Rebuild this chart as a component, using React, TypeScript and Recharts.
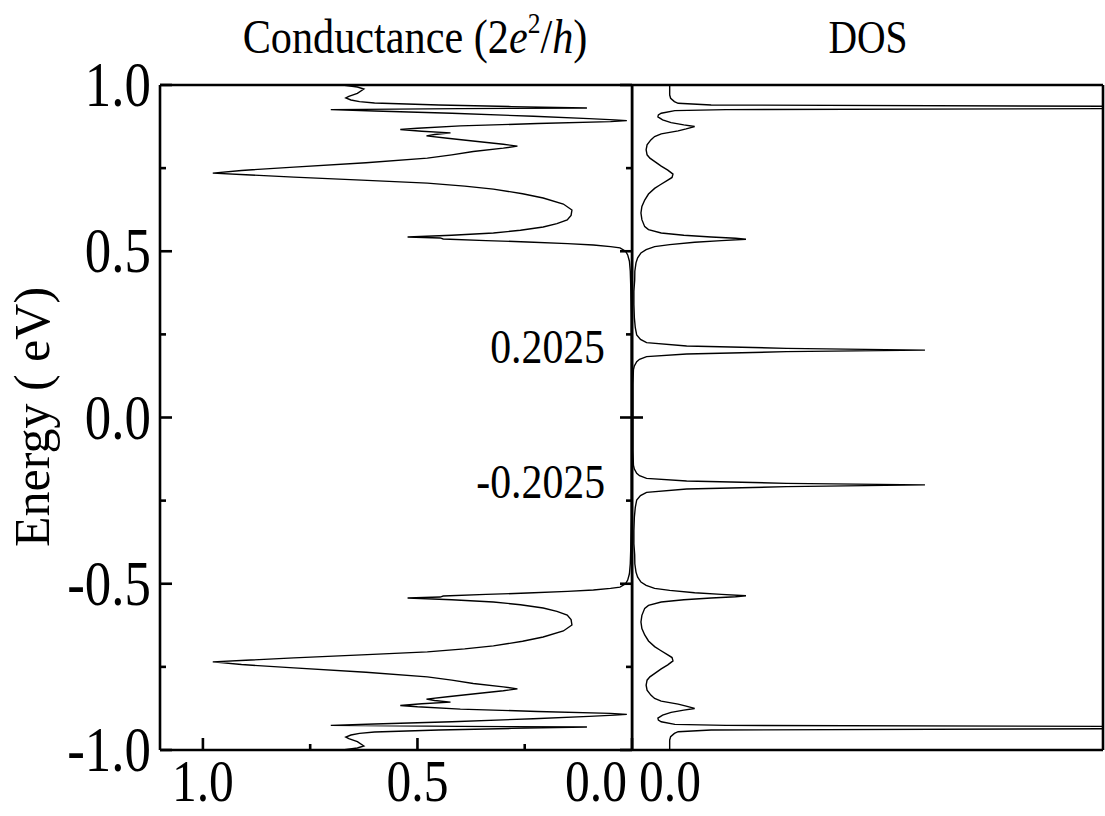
import React from 'react';
import { ScatterChart, Scatter, XAxis, YAxis, ReferenceLine, Label } from 'recharts';

const FONT = '"Liberation Serif", "Times New Roman", Times, serif';
const FRAME = 2.6;
const CURVE = 1.4;

// ---------- Conductance (2e^2/h) vs Energy (eV) ----------
const condEnergyUpper = [1.0, 0.994, 0.988, 0.975, 0.966, 0.961, 0.955, 0.95, 0.946, 0.94, 0.935, 0.931, 0.929, 0.926, 0.922, 0.915, 0.906, 0.899, 0.895, 0.893, 0.89, 0.884, 0.877, 0.87, 0.866, 0.861, 0.856, 0.851, 0.847, 0.84, 0.83, 0.822, 0.816, 0.81, 0.8, 0.79, 0.78, 0.766, 0.753, 0.743, 0.735, 0.73, 0.723, 0.714, 0.705, 0.696, 0.687, 0.673, 0.66, 0.642, 0.624, 0.608, 0.594, 0.583, 0.573, 0.563, 0.555, 0.548, 0.543, 0.54, 0.537, 0.532, 0.528, 0.523, 0.519, 0.514, 0.51, 0.5, 0.489, 0.47, 0.44, 0.4, 0.3, 0.2, 0.1, 0.0];
const condUpper = [0.674, 0.64, 0.625, 0.64, 0.66, 0.667, 0.655, 0.635, 0.6, 0.45, 0.28, 0.105, 0.4, 0.702, 0.6, 0.42, 0.23, 0.1, 0.04, 0.012, 0.05, 0.22, 0.4, 0.5, 0.54, 0.49, 0.423, 0.46, 0.479, 0.43, 0.36, 0.3, 0.267, 0.3, 0.37, 0.42, 0.477, 0.62, 0.788, 0.91, 0.977, 0.9, 0.788, 0.63, 0.477, 0.39, 0.323, 0.255, 0.207, 0.16, 0.14, 0.142, 0.151, 0.175, 0.207, 0.26, 0.323, 0.42, 0.523, 0.447, 0.44, 0.34, 0.244, 0.15, 0.09, 0.05, 0.028, 0.015, 0.01, 0.006, 0.004, 0.003, 0.002, 0.002, 0.002, 0.002];
const condEnergyLower = [-0.1, -0.2, -0.3, -0.4, -0.44, -0.47, -0.489, -0.5, -0.51, -0.514, -0.519, -0.523, -0.528, -0.532, -0.537, -0.54, -0.543, -0.548, -0.555, -0.563, -0.573, -0.583, -0.594, -0.608, -0.624, -0.642, -0.66, -0.673, -0.687, -0.696, -0.705, -0.714, -0.723, -0.73, -0.735, -0.743, -0.753, -0.766, -0.78, -0.79, -0.8, -0.81, -0.816, -0.822, -0.83, -0.84, -0.847, -0.851, -0.856, -0.861, -0.866, -0.87, -0.877, -0.884, -0.89, -0.893, -0.895, -0.899, -0.906, -0.915, -0.922, -0.926, -0.929, -0.931, -0.935, -0.94, -0.946, -0.95, -0.955, -0.961, -0.966, -0.975, -0.988, -0.994, -1.0];
const condLower = [0.002, 0.002, 0.002, 0.003, 0.004, 0.006, 0.01, 0.015, 0.028, 0.05, 0.09, 0.15, 0.244, 0.34, 0.44, 0.447, 0.523, 0.42, 0.323, 0.26, 0.207, 0.175, 0.151, 0.142, 0.14, 0.16, 0.207, 0.255, 0.323, 0.39, 0.477, 0.63, 0.788, 0.9, 0.977, 0.91, 0.788, 0.62, 0.477, 0.42, 0.37, 0.3, 0.267, 0.3, 0.36, 0.43, 0.479, 0.46, 0.423, 0.49, 0.54, 0.5, 0.4, 0.22, 0.05, 0.012, 0.04, 0.1, 0.23, 0.42, 0.6, 0.702, 0.4, 0.105, 0.28, 0.45, 0.6, 0.635, 0.655, 0.667, 0.66, 0.64, 0.625, 0.64, 0.674];

// ---------- DOS vs Energy (eV) ----------
const dosEnergyUpper = [1.0, 0.97, 0.96, 0.95, 0.945, 0.94, 0.936, 0.9325, 0.929, 0.926, 0.923, 0.915, 0.91, 0.904, 0.895, 0.887, 0.88, 0.875, 0.868, 0.862, 0.853, 0.845, 0.835, 0.82, 0.805, 0.79, 0.78, 0.768, 0.756, 0.744, 0.732, 0.722, 0.714, 0.7, 0.689, 0.672, 0.654, 0.635, 0.615, 0.595, 0.574, 0.565, 0.555, 0.548, 0.543, 0.539, 0.536, 0.532, 0.527, 0.52, 0.514, 0.505, 0.495, 0.48, 0.465, 0.44, 0.413, 0.38, 0.34, 0.3, 0.27, 0.248, 0.235, 0.225, 0.215, 0.208, 0.2025, 0.198, 0.191, 0.183, 0.175, 0.168, 0.155, 0.143, 0.1, 0.05, 0.0];
const dosUpper = [0.08, 0.08, 0.082, 0.09, 0.098, 0.168, 1.0, 1.6, 1.0, 0.2, 0.091, 0.062, 0.056, 0.055, 0.065, 0.083, 0.11, 0.133, 0.115, 0.098, 0.062, 0.048, 0.04, 0.032, 0.03, 0.032, 0.038, 0.05, 0.062, 0.076, 0.087, 0.085, 0.076, 0.06, 0.048, 0.035, 0.027, 0.021, 0.019, 0.021, 0.027, 0.035, 0.062, 0.11, 0.168, 0.22, 0.242, 0.19, 0.133, 0.08, 0.048, 0.03, 0.019, 0.012, 0.0085, 0.006, 0.0057, 0.004, 0.004, 0.005, 0.007, 0.01, 0.018, 0.031, 0.116, 0.328, 0.622, 0.328, 0.116, 0.031, 0.016, 0.01, 0.005, 0.003, 0.002, 0.002, 0.002];
const dosEnergyLower = [-0.05, -0.1, -0.143, -0.155, -0.168, -0.175, -0.183, -0.191, -0.198, -0.2025, -0.208, -0.215, -0.225, -0.235, -0.248, -0.27, -0.3, -0.34, -0.38, -0.413, -0.44, -0.465, -0.48, -0.495, -0.505, -0.514, -0.52, -0.527, -0.532, -0.536, -0.539, -0.543, -0.548, -0.555, -0.565, -0.574, -0.595, -0.615, -0.635, -0.654, -0.672, -0.689, -0.7, -0.714, -0.722, -0.732, -0.744, -0.756, -0.768, -0.78, -0.79, -0.805, -0.82, -0.835, -0.845, -0.853, -0.862, -0.868, -0.875, -0.88, -0.887, -0.895, -0.904, -0.91, -0.915, -0.923, -0.926, -0.929, -0.9325, -0.936, -0.94, -0.945, -0.95, -0.96, -0.97, -1.0];
const dosLower = [0.002, 0.002, 0.003, 0.005, 0.01, 0.016, 0.031, 0.116, 0.328, 0.622, 0.328, 0.116, 0.031, 0.018, 0.01, 0.007, 0.005, 0.004, 0.004, 0.0057, 0.006, 0.0085, 0.012, 0.019, 0.03, 0.048, 0.08, 0.133, 0.19, 0.242, 0.22, 0.168, 0.11, 0.062, 0.035, 0.027, 0.021, 0.019, 0.021, 0.027, 0.035, 0.048, 0.06, 0.076, 0.085, 0.087, 0.076, 0.062, 0.05, 0.038, 0.032, 0.03, 0.032, 0.04, 0.048, 0.062, 0.098, 0.115, 0.133, 0.11, 0.083, 0.065, 0.055, 0.056, 0.062, 0.091, 0.2, 1.0, 1.6, 1.0, 0.168, 0.098, 0.09, 0.082, 0.08, 0.08];

// ---------- ticks & labels ----------
const energyTicks = [-1, -0.75, -0.5, -0.25, 0, 0.25, 0.5, 0.75, 1];
const condTicks = [0, 0.25, 0.5, 0.75, 1];
const dosTicks = [0];
const markedLevels = [0.2025, -0.2025];
const markedLabels = ['0.2025', '-0.2025'];

const zip = (es: number[], vs: number[]) => es.map((e, i) => ({ e, v: vs[i] }));
const condData = [...zip(condEnergyUpper, condUpper), ...zip(condEnergyLower, condLower)];
const dosData = [...zip(dosEnergyUpper, dosUpper), ...zip(dosEnergyLower, dosLower)];

const isMajor = (v: number) => Math.abs(v * 2 - Math.round(v * 2)) < 1e-9;
const fmt = (v: number) => v.toFixed(1);

const LEFT_FS = 63;
const BOTTOM_FS = 59;
const SX = 0.84;

const SText = ({ x, y, fs, anchor, sx = SX, children }: any) => (
  <text
    transform={`translate(${x},${y}) scale(${sx},1)`}
    x={0}
    y={0}
    textAnchor={anchor}
    fontSize={fs}
    fontFamily={FONT}
    fill="#000"
  >
    {children}
  </text>
);

const LeftEnergyTick = (props: any) => {
  const { x, y, payload } = props;
  const v = payload.value;
  const major = isMajor(v);
  return (
    <g>
      <line x1={x} x2={x + (major ? 12 : 6)} y1={y} y2={y} stroke="#000" strokeWidth={FRAME} />
      {major && (
        <SText x={x - 9} y={y + 21} fs={LEFT_FS} anchor="end">
          {fmt(v)}
        </SText>
      )}
    </g>
  );
};

const DividerTick = (props: any) => {
  const { x, y, payload } = props;
  const major = isMajor(payload.value);
  return <line x1={x} x2={x - (major ? 12 : 6)} y1={y} y2={y} stroke="#000" strokeWidth={FRAME} />;
};

const CondBottomTick = (props: any) => {
  const { x, y, payload } = props;
  const v = payload.value;
  const major = isMajor(v);
  const shift = v === 0 ? -36 : 0;
  return (
    <g>
      <line x1={x} x2={x} y1={y} y2={y - (major ? 12 : 6)} stroke="#000" strokeWidth={FRAME} />
      {major && (
        <SText x={x + shift} y={y + 51} fs={BOTTOM_FS} anchor="middle">
          {fmt(v)}
        </SText>
      )}
    </g>
  );
};

const CondTopTick = (props: any) => {
  const { x, y, payload } = props;
  const major = isMajor(payload.value);
  return <line x1={x} x2={x} y1={y} y2={y + (major ? 12 : 6)} stroke="#000" strokeWidth={FRAME} />;
};

const DosBottomTick = (props: any) => {
  const { x, y, payload } = props;
  return (
    <SText x={x + 38} y={y + 51} fs={BOTTOM_FS} anchor="middle">
      {fmt(payload.value)}
    </SText>
  );
};

const DosLeftTick = (props: any) => {
  const { x, y } = props;
  return <line x1={x} x2={x + 11} y1={y} y2={y} stroke="#000" strokeWidth={FRAME} />;
};

// Texts of the left chart (title + axis title); chart coordinates = page coordinates
const LeftTexts = () => (
  <g>
    <text
      transform={`translate(415,53) scale(0.88,1)`}
      textAnchor="middle"
      fontSize={48}
      fontFamily={FONT}
      fill="#000"
    >
      Conductance (2<tspan fontStyle="italic">e</tspan>
      <tspan fontSize={29} dy={-20}>2</tspan>
      <tspan dy={20}>/</tspan>
      <tspan fontStyle="italic">h</tspan>)
    </text>
    <text
      transform="translate(49,417) rotate(-90)"
      textAnchor="middle"
      fontSize={50}
      fontFamily={FONT}
      fill="#000"
    >
      Energy ( eV)
    </text>
  </g>
);

// Right chart is offset by 631 px
const RightTexts = () => (
  <text
    transform={`translate(${868 - 631},53) scale(0.86,1)`}
    textAnchor="middle"
    fontSize={46}
    fontFamily={FONT}
    fill="#000"
  >
    DOS
  </text>
);

const levelLabel = (text: string) => (props: any) => {
  const vb = props.viewBox || {};
  const x = (vb.x ?? 160) + (vb.width ?? 472) - 27;
  const y = (vb.y ?? 0) + 13;
  return (
    <SText x={x} y={y} fs={48} anchor="end" sx={0.87}>
      {text}
    </SText>
  );
};

const noShape = () => <g />;

export default function App() {
  const axisLine = { stroke: '#000', strokeWidth: FRAME };
  return (
    <div style={{ position: 'absolute', left: 0, top: 0, width: 1105, height: 816, background: '#fff' }}>
      <div style={{ position: 'absolute', left: 0, top: 0 }}>
        <ScatterChart width={640} height={816} margin={{ top: 84, right: 7, bottom: 0, left: 0 }}>
          <XAxis
            xAxisId="b"
            type="number"
            dataKey="v"
            domain={[0, 1.1]}
            reversed
            allowDataOverflow
            ticks={condTicks}
            interval={0}
            height={66}
            tickSize={0}
            tickMargin={0}
            tickLine={false}
            axisLine={axisLine}
            tick={CondBottomTick}
          />
          <XAxis
            xAxisId="t"
            orientation="top"
            type="number"
            domain={[0, 1.1]}
            reversed
            allowDataOverflow
            ticks={condTicks}
            interval={0}
            height={1}
            tickSize={0}
            tickMargin={0}
            tickLine={false}
            axisLine={axisLine}
            tick={CondTopTick}
          />
          <YAxis
            yAxisId="l"
            type="number"
            dataKey="e"
            domain={[-1, 1]}
            allowDataOverflow
            ticks={energyTicks}
            interval={0}
            width={160}
            tickSize={0}
            tickMargin={0}
            tickLine={false}
            axisLine={axisLine}
            tick={LeftEnergyTick}
          >
            <Label content={LeftTexts} />
          </YAxis>
          <YAxis
            yAxisId="r"
            orientation="right"
            type="number"
            domain={[-1, 1]}
            allowDataOverflow
            ticks={energyTicks}
            interval={0}
            width={1}
            tickSize={0}
            tickMargin={0}
            tickLine={false}
            axisLine={axisLine}
            tick={DividerTick}
          />
          {markedLevels.map((lv, i) => (
            <ReferenceLine
              key={lv}
              xAxisId="b"
              yAxisId="l"
              y={lv}
              stroke="none"
              label={levelLabel(markedLabels[i])}
            />
          ))}
          <Scatter
            xAxisId="b"
            yAxisId="l"
            data={condData}
            line={{ stroke: '#000', strokeWidth: CURVE }}
            shape={noShape}
            fill="none"
            isAnimationActive={false}
          />
        </ScatterChart>
      </div>
      <div style={{ position: 'absolute', left: 631, top: 0 }}>
        <ScatterChart width={474} height={816} margin={{ top: 84, right: 1, bottom: 0, left: 0 }}>
          <XAxis
            xAxisId="b"
            type="number"
            dataKey="v"
            domain={[0, 1]}
            allowDataOverflow
            ticks={dosTicks}
            interval={0}
            height={66}
            tickSize={0}
            tickMargin={0}
            tickLine={false}
            axisLine={axisLine}
            tick={DosBottomTick}
          />
          <XAxis
            xAxisId="t"
            orientation="top"
            type="number"
            domain={[0, 1]}
            allowDataOverflow
            ticks={dosTicks}
            height={1}
            tickSize={0}
            tickLine={false}
            axisLine={axisLine}
            tick={false}
          />
          <YAxis
            yAxisId="l"
            type="number"
            dataKey="e"
            domain={[-1, 1]}
            allowDataOverflow
            ticks={dosTicks}
            interval={0}
            width={1}
            tickSize={0}
            tickMargin={0}
            tickLine={false}
            axisLine={axisLine}
            tick={DosLeftTick}
          >
            <Label content={RightTexts} />
          </YAxis>
          <YAxis
            yAxisId="r"
            orientation="right"
            type="number"
            domain={[-1, 1]}
            allowDataOverflow
            width={1}
            tickSize={0}
            tickLine={false}
            axisLine={axisLine}
            tick={false}
          />
          <Scatter
            xAxisId="b"
            yAxisId="l"
            data={dosData}
            line={{ stroke: '#000', strokeWidth: CURVE }}
            shape={noShape}
            fill="none"
            isAnimationActive={false}
          />
        </ScatterChart>
      </div>
    </div>
  );
}
